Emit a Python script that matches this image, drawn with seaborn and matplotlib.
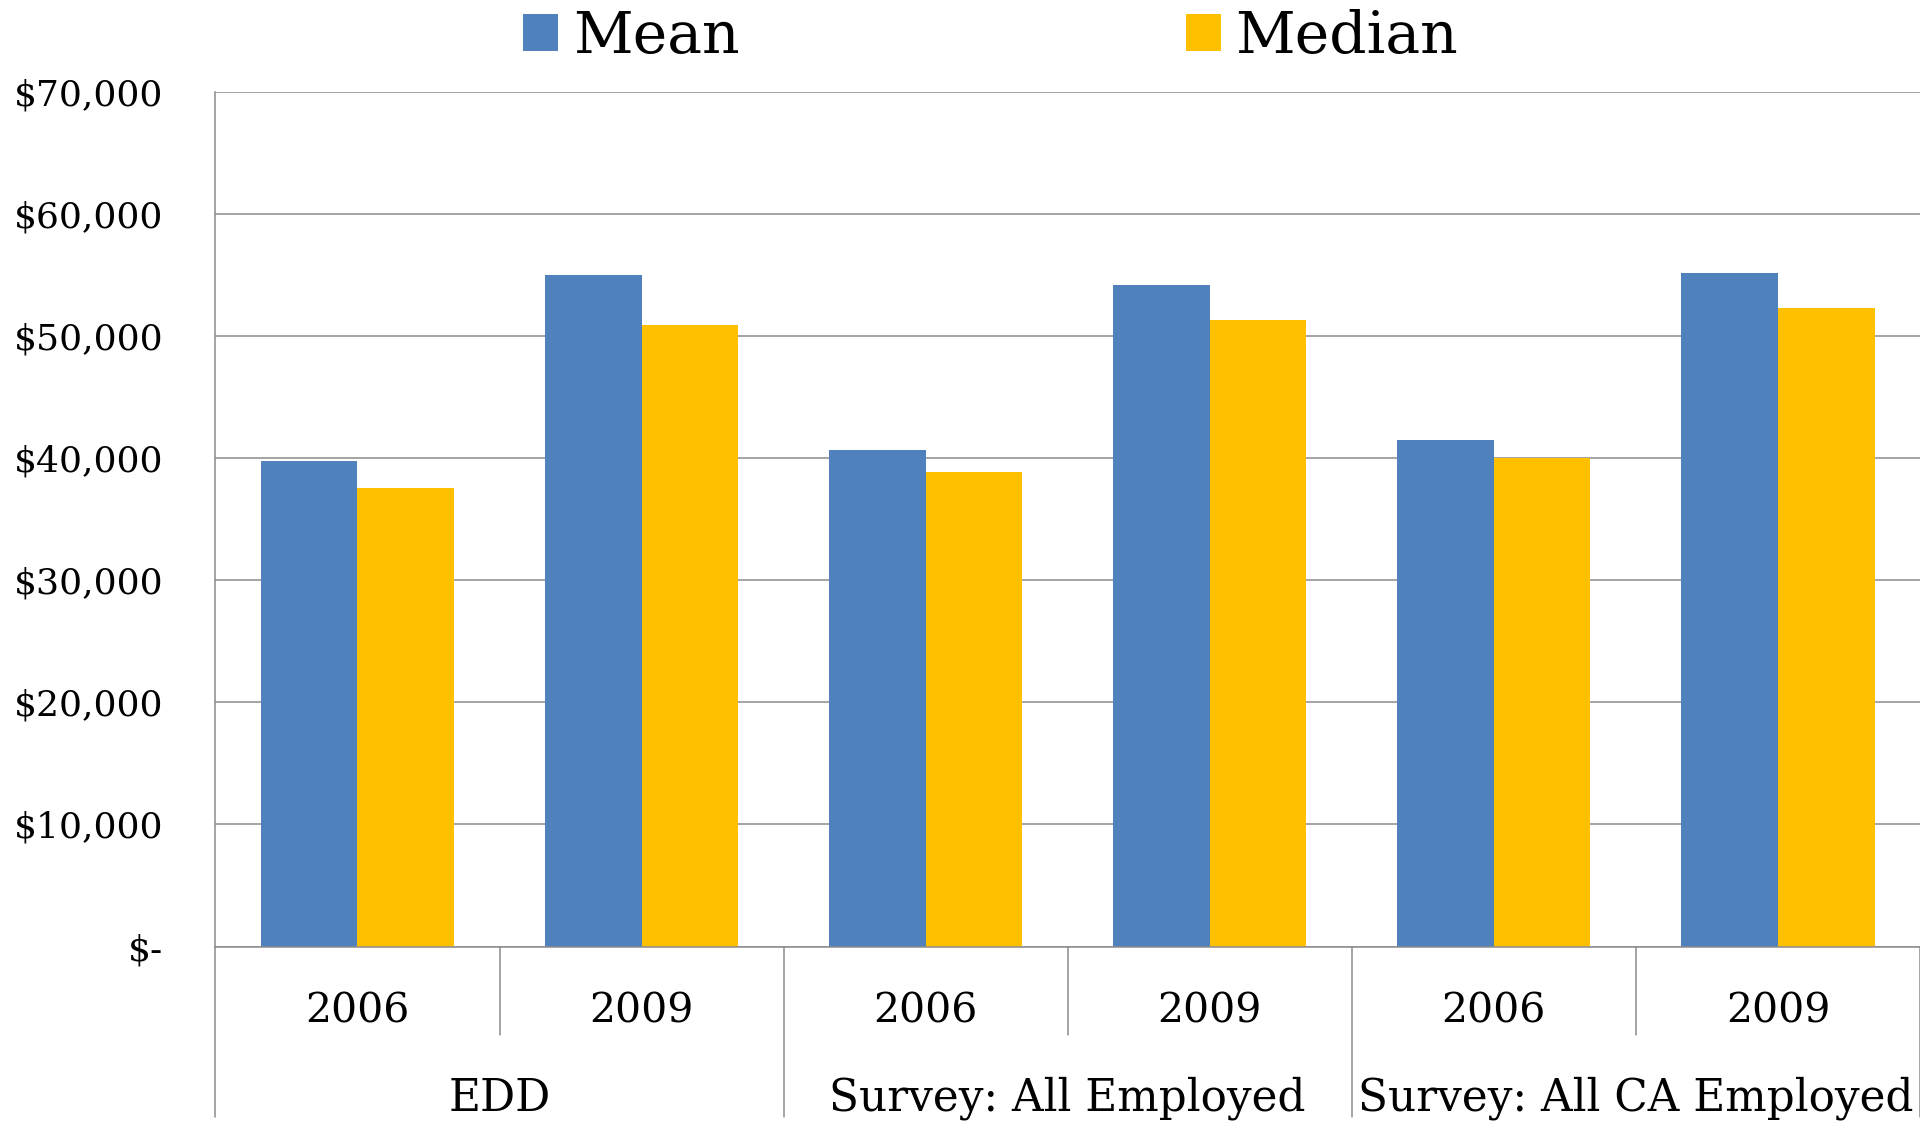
import numpy as np
import pandas as pd
import matplotlib
matplotlib.use("Agg")
import matplotlib.pyplot as plt
import matplotlib.transforms as mtransforms
from matplotlib.patches import Patch
import seaborn as sns

# data
groups = ["EDD", "Survey: All Employed", "Survey: All CA Employed"]
years = ["2006", "2009"]
mean_vals = [39800, 55000, 40700, 54200, 41500, 55200]
median_vals = [37600, 50900, 38900, 51300, 40000, 52300]
series = ["Mean", "Median"]
colors = ["#4F81BD", "#FFC000"]
ytick_vals = [0, 10000, 20000, 30000, 40000, 50000, 60000, 70000]

cats = [f"{g} {y}" for g in groups for y in years]
df = pd.DataFrame({
    "cat": cats * 2,
    "stat": ["Mean"] * len(cats) + ["Median"] * len(cats),
    "value": mean_vals + median_vals,
})

sns.set_style("white")
plt.rcParams["font.family"] = ["DejaVu Serif", "DejaVu Sans"]
plt.rcParams["text.color"] = "black"

fig = plt.figure(figsize=(19.2, 11.22), dpi=100)
ax = fig.add_axes([0.1122, 0.1564, 0.8878, 0.7616])

sns.barplot(data=df, x="cat", y="value", hue="stat", order=cats,
            hue_order=series, palette=colors, width=0.68, saturation=1,
            linewidth=0, ax=ax, legend=False)

gray = "#8c8c8c"
ax.set_xlim(-0.5, len(cats) - 0.5)
ax.set_ylim(0, 70000)
ax.set_yticks(ytick_vals)
ax.set_yticklabels(["$-" if v == 0 else f"${v:,}" for v in ytick_vals])
ax.yaxis.grid(True, color=gray, lw=1.1)
ax.set_axisbelow(True)
ax.tick_params(axis="y", length=9.5, width=1.1, color=gray, labelsize=26,
               pad=28, labelcolor="black")
ax.tick_params(axis="x", length=0)
ax.set_xticks([])
ax.set_xlabel("")
ax.set_ylabel("")
for s in ["top", "right"]:
    ax.spines[s].set_visible(False)
for s in ["left", "bottom"]:
    ax.spines[s].set_color(gray)
    ax.spines[s].set_linewidth(1.1)

# two-level category axis below the plot
trans = mtransforms.blended_transform_factory(ax.transData, ax.transAxes)
for i, c in enumerate(cats):
    ax.text(i, -0.0755, years[i % 2], transform=trans, ha="center",
            va="center", fontsize=29.5, color="black")
for j, g in enumerate(groups):
    ax.text(2 * j + 0.5, -0.1775, g, transform=trans, ha="center",
            va="center", fontsize=31.5, color="black")
for j in range(len(groups)):
    ax.plot([2 * j + 0.5] * 2, [0, -0.1036], transform=trans, color=gray,
            lw=1.1, clip_on=False)
for xb in np.arange(-0.5, len(cats), 2):
    ax.plot([xb, xb], [0, -0.2], transform=trans, color=gray, lw=1.1,
            clip_on=False)

handles = [Patch(facecolor=c, edgecolor="none", label=s)
           for s, c in zip(series, colors)]
fig.legend(handles=handles, loc="center", bbox_to_anchor=(0.516, 0.967),
           ncol=2, frameon=False, fontsize=42, handlelength=0.6,
           handleheight=0.6, handletextpad=0.25, columnspacing=7.65,
           borderaxespad=0, labelcolor="black")

fig.savefig("out.png", dpi=100)
